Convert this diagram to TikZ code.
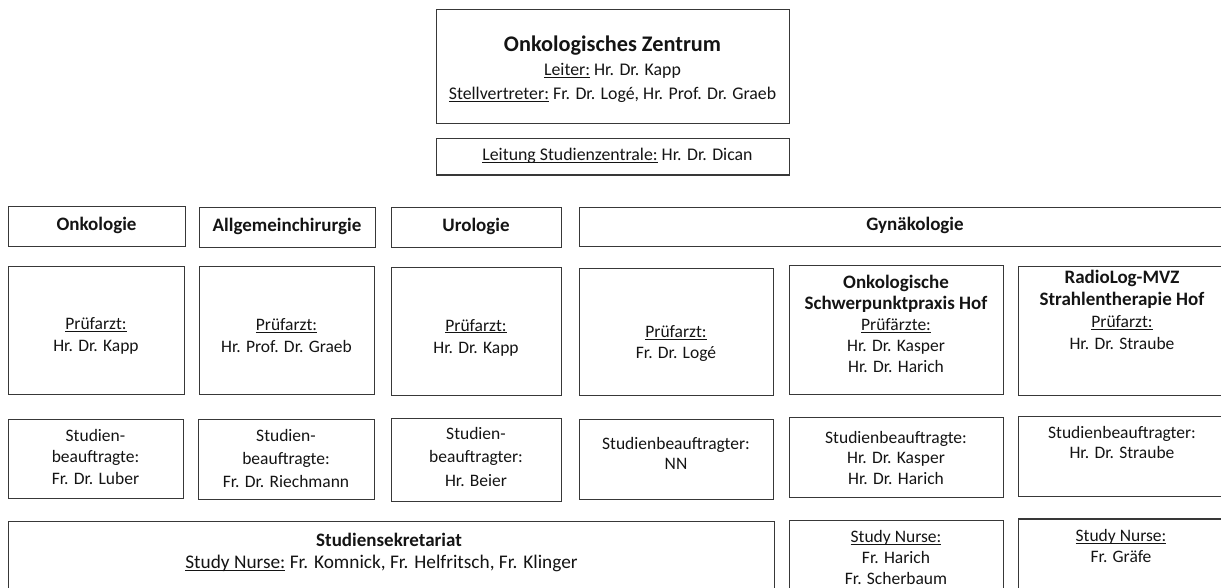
\documentclass[tikz,border=0pt]{standalone}
\usepackage{fontspec}
\setmainfont{Carlito}
\newcommand\myul[1]{{\setbox0\hbox{#1}\rlap{\rule[-2.4pt]{\wd0}{1pt}}\box0}}
\newcommand\bt[1]{{\fontsize{19}{21}\selectfont\bfseries #1}}
\tikzset{
  box/.style={draw=black!78, line width=1.3pt, rectangle, inner sep=0pt},
  txt/.style={align=center, inner sep=0pt, text=black!92, font=\fontsize{17.5}{21}\selectfont},
  head/.style={txt, font=\fontsize{19}{21}\selectfont\bfseries},
}
\newcommand\rbox[5]{\node[box, anchor=north west, minimum width=#4pt-#2pt, minimum height=#5pt-#3pt] (#1) at (#2,#3) {};}
\begin{document}
\begin{tikzpicture}[x=1pt,y=-1pt]
\useasboundingbox (0,0) rectangle (1221,587);
\clip (0,0) rectangle (1221,587);
% top
\rbox{zentrum}{436}{9}{789}{122.7}
\rbox{leitung}{436}{138}{789}{174.3}
% row 1
\rbox{onk}{8}{206}{185}{245.7}
\rbox{allg}{199}{207}{375}{247}
\rbox{uro}{391}{207}{561}{247}
\rbox{gyn}{579}{206.5}{1251}{246}
% row 2
\rbox{onkP}{8}{266}{184}{394}
\rbox{allgP}{199}{266}{374}{394}
\rbox{uroP}{391}{267}{561}{395}
\rbox{gynP}{579}{268}{773}{395}
\rbox{osp}{789}{265}{1003}{394}
\rbox{rad}{1017.5}{265.7}{1240}{395}
% row 3
\rbox{onkS}{8}{419}{183}{498}
\rbox{allgS}{198}{419}{374}{499}
\rbox{uroS}{391}{418}{561}{501}
\rbox{gynS}{579}{419}{773}{499}
\rbox{ospS}{789}{417}{1003}{497}
\rbox{radS}{1017.5}{415.7}{1240}{496}
% row 4
\rbox{sek}{8}{521}{774}{610}
\rbox{ospN}{789}{520}{1003}{610}
\rbox{radN}{1017.5}{518.3}{1240}{610}
% texts
\node[txt, font=\fontsize{22.3}{25}\selectfont\bfseries] (t-zentrum) at (612.5,45.7) {Onkologisches Zentrum};
\node[txt, font=\fontsize{17.8}{23.5}\selectfont] (t-leiter) at (612.5,83) {\myul{Leiter:} Hr. Dr. Kapp\\ \myul{Stellvertreter:} Fr. Dr. Logé, Hr. Prof. Dr. Graeb};
\node[txt, font=\fontsize{17.8}{21}\selectfont] (t-leitung) at (617.5,156) {\myul{Leitung Studienzentrale:} Hr. Dr. Dican};
\node[head] (t-onk) at (96.5,225) {Onkologie};
\node[head] (t-allg) at (287,226.5) {Allgemeinchirurgie};
\node[head] (t-uro) at (476,226.5) {Urologie};
\node[head] (t-gyn) at (915,225.5) {Gynäkologie};
% row 2 texts
\node[txt, font=\fontsize{17.5}{22}\selectfont] (t-onkP) at (96,336) {\myul{Prüfarzt:}\\Hr. Dr. Kapp};
\node[txt, font=\fontsize{17.5}{22}\selectfont] (t-allgP) at (286.5,336) {\myul{Prüfarzt:}\\Hr. Prof. Dr. Graeb};
\node[txt, font=\fontsize{17.5}{22}\selectfont] (t-uroP) at (476,337.5) {\myul{Prüfarzt:}\\Hr. Dr. Kapp};
\node[txt, font=\fontsize{17.5}{20.5}\selectfont] (t-gynP) at (676,343.5) {\myul{Prüfarzt:}\\Fr. Dr. Logé};
\node[txt] (t-osp) at (896,324) {\bt{Onkologische}\\\bt{Schwerpunktpraxis Hof}\\\myul{Prüfärzte:}\\Hr. Dr. Kasper\\Hr. Dr. Harich};
\node[txt, font=\fontsize{17.5}{22}\selectfont] (t-rad) at (1122,310) {\bt{RadioLog-MVZ}\\\bt{Strahlentherapie Hof}\\\myul{Prüfarzt:}\\Hr. Dr. Straube};
% row 3 texts
\node[txt, font=\fontsize{17.5}{21.5}\selectfont] (t-onkS) at (95.5,456.7) {Studien-\\beauftragte:\\Fr. Dr. Luber};
\node[txt, font=\fontsize{17.5}{23}\selectfont] (t-allgS) at (286,458) {Studien-\\beauftragte:\\Fr. Dr. Riechmann};
\node[txt, font=\fontsize{17.5}{23.5}\selectfont] (t-uroS) at (476,456.5) {Studien-\\beauftragter:\\Hr. Beier};
\node[txt, font=\fontsize{17.5}{20}\selectfont] (t-gynS) at (676,453) {Studienbeauftragter:\\NN};
\node[txt, font=\fontsize{17.5}{20.5}\selectfont] (t-ospS) at (896,457.7) {Studienbeauftragte:\\Hr. Dr. Kasper\\Hr. Dr. Harich};
\node[txt, font=\fontsize{17.5}{20.5}\selectfont] (t-radS) at (1122,442.5) {Studienbeauftragter:\\Hr. Dr. Straube};
% row 4 texts
\node[head] (t-sek) at (389,539.5) {Studiensekretariat};
\node[txt, font=\fontsize{19.3}{21}\selectfont] (t-sekN) at (381.5,563.5) {\myul{Study Nurse:} Fr. Komnick, Fr. Helfritsch, Fr. Klinger};
\node[txt, font=\fontsize{17.5}{20.7}\selectfont] (t-ospN) at (896,557.3) {\myul{Study Nurse:}\\Fr. Harich\\Fr. Scherbaum};
\node[txt, font=\fontsize{17.5}{21.7}\selectfont] (t-radN) at (1121,546) {\myul{Study Nurse:}\\Fr. Gräfe};
\end{tikzpicture}
\end{document}
